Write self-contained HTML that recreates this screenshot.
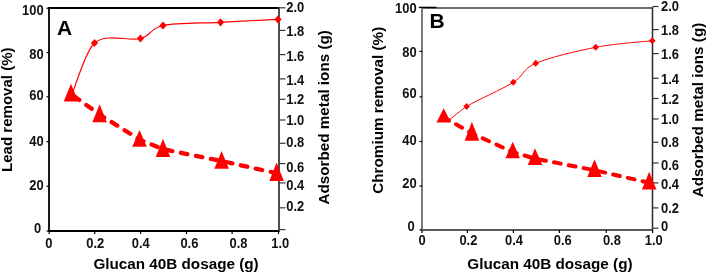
<!DOCTYPE html>
<html><head><meta charset="utf-8"><title>Glucan 40B dosage charts</title>
<style>html,body{margin:0;padding:0;background:#fff;width:707px;height:273px;overflow:hidden}svg{display:block;will-change:transform}text{font-family:"Liberation Sans",sans-serif}</style>
</head><body>
<svg width="707" height="273" viewBox="0 0 707 273" font-family='"Liberation Sans", sans-serif'>
<line x1="49.00" y1="8.00" x2="279.00" y2="8.00" stroke="#000" stroke-width="1.80"/>
<line x1="49.00" y1="231.00" x2="279.00" y2="231.00" stroke="#000" stroke-width="1.80"/>
<line x1="49.00" y1="7.10" x2="49.00" y2="231.90" stroke="#000" stroke-width="1.80"/>
<line x1="279.00" y1="7.10" x2="279.00" y2="231.90" stroke="#3a3a3a" stroke-width="1.80"/>
<line x1="46.50" y1="231.00" x2="49.00" y2="231.00" stroke="#000" stroke-width="1.20"/>
<line x1="46.50" y1="186.30" x2="49.00" y2="186.30" stroke="#000" stroke-width="1.20"/>
<line x1="46.50" y1="141.60" x2="49.00" y2="141.60" stroke="#000" stroke-width="1.20"/>
<line x1="46.50" y1="96.80" x2="49.00" y2="96.80" stroke="#000" stroke-width="1.20"/>
<line x1="46.50" y1="52.50" x2="49.00" y2="52.50" stroke="#000" stroke-width="1.20"/>
<line x1="46.50" y1="8.20" x2="49.00" y2="8.20" stroke="#000" stroke-width="1.20"/>
<line x1="49.20" y1="231.00" x2="49.20" y2="234.00" stroke="#000" stroke-width="1.20"/>
<line x1="94.70" y1="231.00" x2="94.70" y2="234.00" stroke="#000" stroke-width="1.20"/>
<line x1="140.60" y1="231.00" x2="140.60" y2="234.00" stroke="#000" stroke-width="1.20"/>
<line x1="186.50" y1="231.00" x2="186.50" y2="234.00" stroke="#000" stroke-width="1.20"/>
<line x1="232.10" y1="231.00" x2="232.10" y2="234.00" stroke="#000" stroke-width="1.20"/>
<line x1="278.50" y1="231.00" x2="278.50" y2="234.00" stroke="#000" stroke-width="1.20"/>
<line x1="279.00" y1="229.60" x2="285.50" y2="229.60" stroke="#3a3a3a" stroke-width="1.20"/>
<line x1="279.00" y1="207.80" x2="285.50" y2="207.80" stroke="#3a3a3a" stroke-width="1.20"/>
<line x1="279.00" y1="182.90" x2="285.50" y2="182.90" stroke="#3a3a3a" stroke-width="1.20"/>
<line x1="279.00" y1="163.60" x2="285.50" y2="163.60" stroke="#3a3a3a" stroke-width="1.20"/>
<line x1="279.00" y1="143.30" x2="285.50" y2="143.30" stroke="#3a3a3a" stroke-width="1.20"/>
<line x1="279.00" y1="120.00" x2="285.50" y2="120.00" stroke="#3a3a3a" stroke-width="1.20"/>
<line x1="279.00" y1="99.30" x2="285.50" y2="99.30" stroke="#3a3a3a" stroke-width="1.20"/>
<line x1="279.00" y1="78.90" x2="285.50" y2="78.90" stroke="#3a3a3a" stroke-width="1.20"/>
<line x1="279.00" y1="54.60" x2="285.50" y2="54.60" stroke="#3a3a3a" stroke-width="1.20"/>
<line x1="279.00" y1="30.40" x2="285.50" y2="30.40" stroke="#3a3a3a" stroke-width="1.20"/>
<line x1="279.00" y1="7.80" x2="285.50" y2="7.80" stroke="#3a3a3a" stroke-width="1.20"/>
<g fill="#111">
<text transform="translate(43.60 15.21) scale(0.900 1)" font-size="14.40" text-anchor="end" font-weight="bold">100</text>
<text transform="translate(43.60 58.86) scale(0.900 1)" font-size="14.40" text-anchor="end" font-weight="bold">80</text>
<text transform="translate(43.60 99.76) scale(0.900 1)" font-size="14.40" text-anchor="end" font-weight="bold">60</text>
<text transform="translate(43.60 145.56) scale(0.900 1)" font-size="14.40" text-anchor="end" font-weight="bold">40</text>
<text transform="translate(43.60 190.36) scale(0.900 1)" font-size="14.40" text-anchor="end" font-weight="bold">20</text>
<text transform="translate(41.20 232.66) scale(0.900 1)" font-size="14.40" text-anchor="end" font-weight="bold">0</text>
<text transform="translate(48.80 248.06) scale(0.900 1)" font-size="14.40" text-anchor="middle" font-weight="bold">0</text>
<text transform="translate(95.20 248.06) scale(0.900 1)" font-size="14.40" text-anchor="middle" font-weight="bold">0.2</text>
<text transform="translate(140.80 248.06) scale(0.900 1)" font-size="14.40" text-anchor="middle" font-weight="bold">0.4</text>
<text transform="translate(189.40 248.06) scale(0.900 1)" font-size="14.40" text-anchor="middle" font-weight="bold">0.6</text>
<text transform="translate(238.50 248.06) scale(0.900 1)" font-size="14.40" text-anchor="middle" font-weight="bold">0.8</text>
<text transform="translate(280.20 248.06) scale(0.900 1)" font-size="14.40" text-anchor="middle" font-weight="bold">1.0</text>
<text transform="translate(286.30 11.86) scale(0.900 1)" font-size="14.40" text-anchor="start" font-weight="bold">2.0</text>
<text transform="translate(286.30 36.26) scale(0.900 1)" font-size="14.40" text-anchor="start" font-weight="bold">1.8</text>
<text transform="translate(286.30 60.86) scale(0.900 1)" font-size="14.40" text-anchor="start" font-weight="bold">1.6</text>
<text transform="translate(286.30 84.86) scale(0.900 1)" font-size="14.40" text-anchor="start" font-weight="bold">1.4</text>
<text transform="translate(286.30 103.86) scale(0.900 1)" font-size="14.40" text-anchor="start" font-weight="bold">1.2</text>
<text transform="translate(286.30 124.56) scale(0.900 1)" font-size="14.40" text-anchor="start" font-weight="bold">1.0</text>
<text transform="translate(286.30 147.16) scale(0.900 1)" font-size="14.40" text-anchor="start" font-weight="bold">0.8</text>
<text transform="translate(286.30 171.66) scale(0.900 1)" font-size="14.40" text-anchor="start" font-weight="bold">0.6</text>
<text transform="translate(286.30 190.36) scale(0.900 1)" font-size="14.40" text-anchor="start" font-weight="bold">0.4</text>
<text transform="translate(286.30 211.36) scale(0.900 1)" font-size="14.40" text-anchor="start" font-weight="bold">0.2</text>
</g>
<text x="93.40" y="268.60" font-size="15.25" text-anchor="start" font-weight="bold">Glucan 40B dosage (g)</text>
<text transform="translate(12.40 109.70) rotate(-90)" font-size="15.05" text-anchor="middle" font-weight="bold">Lead removal (%)</text>
<text transform="translate(329.20 117.35) rotate(-90)" font-size="15.25" text-anchor="middle" font-weight="bold">Adsorbed metal ions (g)</text>
<text x="57.00" y="35.20" font-size="21.00" text-anchor="start" font-weight="bold">A</text>
<path d="M70.00 100.00 C74.08 90.50 85.11 51.20 94.50 43.00 C106.23 32.75 128.98 41.42 140.40 38.50 C151.82 35.58 149.65 28.20 163.00 25.50 C176.35 22.80 201.33 23.32 220.50 22.30 C239.67 21.28 268.42 19.88 278.00 19.40" fill="none" stroke="#ff0000" stroke-width="1.20"/>
<polyline points="71.00,93.90 99.60,114.56 139.50,139.52 163.00,149.12 221.60,161.09 276.60,173.14" fill="none" stroke="#ff0000" stroke-width="4.30" stroke-linecap="round" stroke-dasharray="6.6 8.7" stroke-dashoffset="11.70"/>
<g fill="#ff0000">
<polygon points="71.00,83.70 63.75,101.60 78.25,101.60"/>
<polygon points="99.60,104.30 92.35,122.30 106.85,122.30"/>
<polygon points="139.50,130.00 132.25,146.70 146.75,146.70"/>
<polygon points="163.00,138.80 155.75,156.90 170.25,156.90"/>
<polygon points="221.60,151.00 214.35,168.70 228.85,168.70"/>
<polygon points="276.60,162.60 269.35,181.10 283.85,181.10"/>
<polygon points="94.50,38.90 98.10,43.00 94.50,47.10 90.90,43.00"/>
<polygon points="140.40,34.40 144.00,38.50 140.40,42.60 136.80,38.50"/>
<polygon points="163.00,21.40 166.60,25.50 163.00,29.60 159.40,25.50"/>
<polygon points="220.50,18.20 224.10,22.30 220.50,26.40 216.90,22.30"/>
<polygon points="278.00,15.30 281.60,19.40 278.00,23.50 274.40,19.40"/>
</g>
<line x1="422.00" y1="8.00" x2="652.50" y2="8.00" stroke="#6e6e6e" stroke-width="1.80"/>
<line x1="422.00" y1="230.00" x2="652.50" y2="230.00" stroke="#5a5a5a" stroke-width="1.80"/>
<line x1="422.00" y1="7.10" x2="422.00" y2="230.90" stroke="#7a7a7a" stroke-width="2.00"/>
<line x1="652.50" y1="7.10" x2="652.50" y2="230.90" stroke="#333" stroke-width="1.60"/>
<line x1="418.80" y1="7.40" x2="436.50" y2="7.40" stroke="#000" stroke-width="1.40"/>
<line x1="419.50" y1="229.80" x2="422.00" y2="229.80" stroke="#000" stroke-width="1.20"/>
<line x1="419.50" y1="186.10" x2="422.00" y2="186.10" stroke="#000" stroke-width="1.20"/>
<line x1="419.50" y1="141.50" x2="422.00" y2="141.50" stroke="#000" stroke-width="1.20"/>
<line x1="419.50" y1="96.90" x2="422.00" y2="96.90" stroke="#000" stroke-width="1.20"/>
<line x1="419.50" y1="51.40" x2="422.00" y2="51.40" stroke="#000" stroke-width="1.20"/>
<line x1="422.00" y1="230.00" x2="422.00" y2="233.00" stroke="#000" stroke-width="1.20"/>
<line x1="467.40" y1="230.00" x2="467.40" y2="233.00" stroke="#000" stroke-width="1.20"/>
<line x1="513.40" y1="230.00" x2="513.40" y2="233.00" stroke="#000" stroke-width="1.20"/>
<line x1="559.40" y1="230.00" x2="559.40" y2="233.00" stroke="#000" stroke-width="1.20"/>
<line x1="606.30" y1="230.00" x2="606.30" y2="233.00" stroke="#000" stroke-width="1.20"/>
<line x1="652.60" y1="230.00" x2="652.60" y2="233.00" stroke="#000" stroke-width="1.20"/>
<line x1="652.50" y1="228.20" x2="658.50" y2="228.20" stroke="#333" stroke-width="1.20"/>
<line x1="652.50" y1="207.90" x2="658.50" y2="207.90" stroke="#333" stroke-width="1.20"/>
<line x1="652.50" y1="182.90" x2="658.50" y2="182.90" stroke="#333" stroke-width="1.20"/>
<line x1="652.50" y1="163.00" x2="658.50" y2="163.00" stroke="#333" stroke-width="1.20"/>
<line x1="652.50" y1="142.30" x2="658.50" y2="142.30" stroke="#333" stroke-width="1.20"/>
<line x1="652.50" y1="119.00" x2="658.50" y2="119.00" stroke="#333" stroke-width="1.20"/>
<line x1="652.50" y1="98.50" x2="658.50" y2="98.50" stroke="#333" stroke-width="1.20"/>
<line x1="652.50" y1="78.30" x2="658.50" y2="78.30" stroke="#333" stroke-width="1.20"/>
<line x1="652.50" y1="53.60" x2="658.50" y2="53.60" stroke="#333" stroke-width="1.20"/>
<line x1="652.50" y1="29.60" x2="658.50" y2="29.60" stroke="#333" stroke-width="1.20"/>
<line x1="652.50" y1="6.50" x2="658.50" y2="6.50" stroke="#333" stroke-width="1.20"/>
<g fill="#111">
<text transform="translate(416.60 13.31) scale(0.900 1)" font-size="14.40" text-anchor="end" font-weight="bold">100</text>
<text transform="translate(416.60 56.96) scale(0.900 1)" font-size="14.40" text-anchor="end" font-weight="bold">80</text>
<text transform="translate(416.60 97.96) scale(0.900 1)" font-size="14.40" text-anchor="end" font-weight="bold">60</text>
<text transform="translate(416.60 145.26) scale(0.900 1)" font-size="14.40" text-anchor="end" font-weight="bold">40</text>
<text transform="translate(416.60 188.26) scale(0.900 1)" font-size="14.40" text-anchor="end" font-weight="bold">20</text>
<text transform="translate(414.60 230.76) scale(0.900 1)" font-size="14.40" text-anchor="end" font-weight="bold">0</text>
<text transform="translate(422.15 245.36) scale(0.900 1)" font-size="14.40" text-anchor="middle" font-weight="bold">0</text>
<text transform="translate(468.40 245.36) scale(0.900 1)" font-size="14.40" text-anchor="middle" font-weight="bold">0.2</text>
<text transform="translate(514.00 245.36) scale(0.900 1)" font-size="14.40" text-anchor="middle" font-weight="bold">0.4</text>
<text transform="translate(562.80 245.36) scale(0.900 1)" font-size="14.40" text-anchor="middle" font-weight="bold">0.6</text>
<text transform="translate(611.90 245.36) scale(0.900 1)" font-size="14.40" text-anchor="middle" font-weight="bold">0.8</text>
<text transform="translate(653.70 245.36) scale(0.900 1)" font-size="14.40" text-anchor="middle" font-weight="bold">1.0</text>
<text transform="translate(661.00 11.46) scale(0.900 1)" font-size="14.40" text-anchor="start" font-weight="bold">2.0</text>
<text transform="translate(661.00 35.16) scale(0.900 1)" font-size="14.40" text-anchor="start" font-weight="bold">1.8</text>
<text transform="translate(661.00 59.36) scale(0.900 1)" font-size="14.40" text-anchor="start" font-weight="bold">1.6</text>
<text transform="translate(661.00 83.86) scale(0.900 1)" font-size="14.40" text-anchor="start" font-weight="bold">1.4</text>
<text transform="translate(661.00 104.36) scale(0.900 1)" font-size="14.40" text-anchor="start" font-weight="bold">1.2</text>
<text transform="translate(661.00 123.66) scale(0.900 1)" font-size="14.40" text-anchor="start" font-weight="bold">1.0</text>
<text transform="translate(661.00 147.36) scale(0.900 1)" font-size="14.40" text-anchor="start" font-weight="bold">0.8</text>
<text transform="translate(661.00 170.36) scale(0.900 1)" font-size="14.40" text-anchor="start" font-weight="bold">0.6</text>
<text transform="translate(661.00 189.46) scale(0.900 1)" font-size="14.40" text-anchor="start" font-weight="bold">0.4</text>
<text transform="translate(661.00 212.76) scale(0.900 1)" font-size="14.40" text-anchor="start" font-weight="bold">0.2</text>
<text transform="translate(661.00 230.76) scale(0.900 1)" font-size="14.40" text-anchor="start" font-weight="bold">0</text>
</g>
<text x="467.30" y="268.50" font-size="15.25" text-anchor="start" font-weight="bold">Glucan 40B dosage (g)</text>
<text transform="translate(383.00 110.25) rotate(-90)" font-size="15.25" text-anchor="middle" font-weight="bold">Chromium removal (%)</text>
<text transform="translate(703.00 110.00) rotate(-90)" font-size="15.25" text-anchor="middle" font-weight="bold">Adsorbed metal ions (g)</text>
<text x="429.50" y="28.00" font-size="21.00" text-anchor="start" font-weight="bold">B</text>
<path d="M447.50 121.50 C450.68 118.98 462.21 109.01 466.60 106.40 C477.57 99.87 501.78 89.48 513.30 82.30 C524.82 75.12 521.97 69.13 535.70 63.30 C549.43 57.47 576.27 51.07 595.70 47.30 C615.13 43.53 642.87 41.80 652.30 40.70" fill="none" stroke="#ff0000" stroke-width="1.00"/>
<polyline points="443.70,117.17 471.90,133.48 512.70,151.99 535.00,158.65 594.50,170.21 649.20,182.77" fill="none" stroke="#ff0000" stroke-width="4.00" stroke-linecap="round" stroke-dasharray="6.9 8.2" stroke-dashoffset="0.83"/>
<g fill="#ff0000">
<polygon points="443.70,108.30 436.45,122.60 450.95,122.60"/>
<polygon points="471.90,121.70 464.65,140.70 479.15,140.70"/>
<polygon points="512.70,141.70 505.45,158.30 519.95,158.30"/>
<polygon points="535.00,148.30 527.75,165.00 542.25,165.00"/>
<polygon points="594.50,159.30 587.25,176.90 601.75,176.90"/>
<polygon points="649.20,171.80 641.95,189.50 656.45,189.50"/>
<polygon points="466.60,102.90 469.85,106.40 466.60,109.90 463.35,106.40"/>
<polygon points="513.30,78.80 516.55,82.30 513.30,85.80 510.05,82.30"/>
<polygon points="535.70,59.80 538.95,63.30 535.70,66.80 532.45,63.30"/>
<polygon points="595.70,43.80 598.95,47.30 595.70,50.80 592.45,47.30"/>
<polygon points="652.30,37.20 655.55,40.70 652.30,44.20 649.05,40.70"/>
</g>
</svg>
</body></html>
